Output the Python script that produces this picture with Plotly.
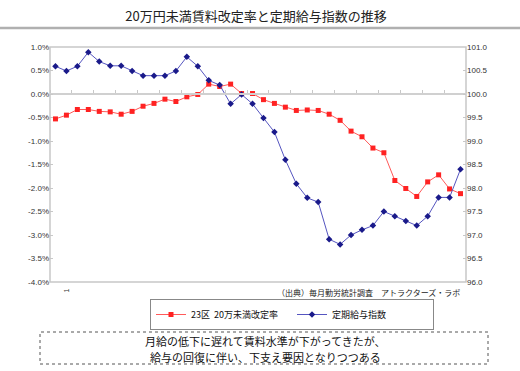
import plotly.graph_objects as go

# ---- data ----
periods = [str(i) for i in range(1, 39)]
rent_rate = [-0.53, -0.45, -0.33, -0.33, -0.37, -0.38, -0.43, -0.37, -0.26, -0.20,
             -0.11, -0.16, -0.06, -0.01, 0.21, 0.16, 0.21, 0.01, 0.01, -0.12,
             -0.20, -0.28, -0.35, -0.34, -0.35, -0.43, -0.56, -0.79, -0.91, -1.15,
             -1.25, -1.84, -2.01, -2.18, -1.87, -1.72, -2.02, -2.12]
wage_index = [100.59, 100.49, 100.59, 100.89, 100.69, 100.60, 100.60, 100.49, 100.39, 100.39,
              100.39, 100.49, 100.79, 100.59, 100.29, 100.19, 99.79, 99.99, 99.79, 99.49,
              99.19, 98.60, 98.09, 97.79, 97.70, 96.91, 96.80, 97.00, 97.11, 97.20,
              97.50, 97.40, 97.30, 97.20, 97.40, 97.80, 97.80, 98.40]
left_ticks = [1.0, 0.5, 0.0, -0.5, -1.0, -1.5, -2.0, -2.5, -3.0, -3.5, -4.0]
right_ticks = [101.0, 100.5, 100.0, 99.5, 99.0, 98.5, 98.0, 97.5, 97.0, 96.5, 96.0]

title = "20万円未満賃料改定率と定期給与指数の推移"
name_rent = "23区  20万未満改定率"
name_wage = "定期給与指数"
source = "（出典）毎月勤労統計調査　アトラクターズ・ラボ"
note_lines = ["月給の低下に遅れて賃料水準が下がってきたが、",
              "給与の回復に伴い、下支え要因となりつつある"]

JP = "Noto Sans CJK JP"
SANS = "Liberation Sans, Arial"

fig = go.Figure()
fig.add_trace(go.Scatter(
    x=periods, y=rent_rate, name=name_rent, mode="lines+markers",
    line=dict(color="#ff5a5a", width=1),
    marker=dict(symbol="square", size=5, color="#ff2222"),
    yaxis="y"))
fig.add_trace(go.Scatter(
    x=periods, y=wage_index, name=name_wage, mode="lines+markers",
    line=dict(color="#5555c0", width=1),
    marker=dict(symbol="diamond", size=5, color="#1a1a8a"),
    yaxis="y2"))

W, H = 520, 371
L, R, T, B = 50, 54, 47, 89
PW, PH = W - L - R, H - T - B


def px(xp):
    return (xp - L) / PW


def py(yp):
    return (H - B - yp) / PH


fig.update_layout(
    width=W, height=H,
    margin=dict(l=L, r=R, t=T, b=B, autoexpand=False),
    paper_bgcolor="white", plot_bgcolor="white",
    title=dict(text=title, x=256 / W, xanchor="center", y=1 - 16 / H, yanchor="middle",
               font=dict(family=JP, size=13, color="#222")),
    xaxis=dict(type="category", anchor="free", position=0.8, side="top",
               showticklabels=False, showgrid=False, zeroline=False,
               showline=True, linecolor="#d0d0d0", linewidth=2,
               ticks="outside", ticklen=3, tickcolor="#c8c8c8", tickson="boundaries",
               range=[-0.5, 37.5]),
    yaxis=dict(range=[-4, 1], tickvals=left_ticks,
               ticktext=[f"{v:.1f}%" for v in left_ticks],
               showgrid=False, zeroline=False, showline=False,
               ticks="inside", ticklen=3, tickcolor="#c8c8c8",
               tickfont=dict(family=SANS, size=8, color="#333")),
    yaxis2=dict(range=[96, 101], tickvals=right_ticks,
                ticktext=[f"{v:.1f}" for v in right_ticks],
                overlaying="y", side="right", showgrid=False, zeroline=False,
                showline=False, ticks="inside", ticklen=3, tickcolor="#c8c8c8",
                tickfont=dict(family=SANS, size=8, color="#333")),
    legend=dict(orientation="h", x=px(150), xanchor="left",
                y=py(299), yanchor="top",
                bordercolor="#888", borderwidth=1, bgcolor="white",
                font=dict(family=JP, size=9, color="#111"),
                itemwidth=30, tracegroupgap=0,
                entrywidth=96, entrywidthmode="pixels"),
    showlegend=True,
)

# plot frame
fig.add_shape(type="rect", xref="paper", yref="paper", x0=0, x1=1, y0=0, y1=1,
              line=dict(color="#c8c8c8", width=1.5), layer="below")
# line under title
fig.add_shape(type="line", xref="paper", yref="paper",
              x0=px(0), x1=px(W), y0=py(28), y1=py(28),
              line=dict(color="#b0b0b0", width=2.5))
# note box
fig.add_shape(type="rect", xref="paper", yref="paper",
              x0=px(40), x1=px(488), y0=py(364), y1=py(332),
              line=dict(color="#555", width=1, dash="dot"))

fig.add_annotation(text=source, xref="paper", yref="paper",
                   x=px(462), xanchor="right", y=py(292), yanchor="middle",
                   showarrow=False, font=dict(family=JP, size=8, color="#222"))
for i, line in enumerate(note_lines):
    fig.add_annotation(text=line, xref="paper", yref="paper",
                       x=px(265), xanchor="center", y=py(341 + 16 * i), yanchor="middle",
                       showarrow=False, font=dict(family=JP, size=11, color="#111"))
fig.add_annotation(text="1", xref="x", yref="paper", x=periods[0], y=py(290),
                   yanchor="middle", showarrow=False, textangle=-90,
                   font=dict(family=SANS, size=7, color="#333"))

fig.write_html("out.html", config={"displayModeBar": False},
               post_script="document.body.style.margin='0';document.body.style.overflow='hidden';")
